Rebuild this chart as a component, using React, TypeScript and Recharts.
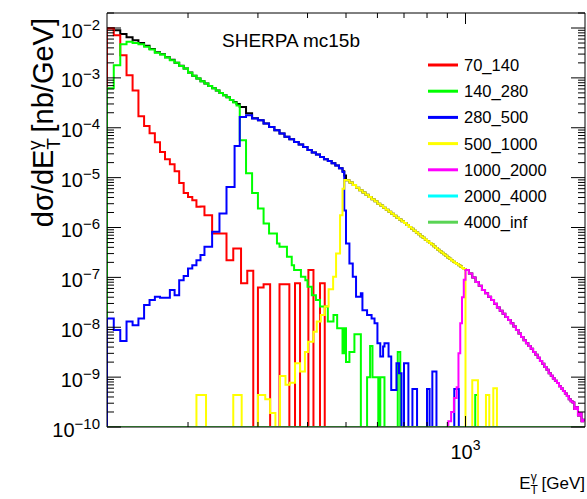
import React from "react";
import { LineChart, Line, XAxis, YAxis } from "recharts";

const W = 587;
const H = 499;
const Z = 1e-10; // empty bin, drawn on the bottom of the frame
const X_MIN = 125;
const X_MAX = 2000;
const Y_MIN = 1e-10;
const Y_MAX = 0.02;
const FONT = "'Liberation Sans', Arial, Helvetica, sans-serif";

// each histogram: [low bin edge in GeV, dσ/dE in nb/GeV]
const totalLow: [number, number][] = [
  [125, 9.9e-3], [130, 9.0e-3], [135, 7.6e-3], [140, 6.5e-3], [145, 5.7e-3], [150, 5.0e-3],
  [155, 4.4e-3], [160, 3.8e-3], [165, 3.25e-3], [170, 2.98e-3], [175, 2.6e-3], [180, 2.3e-3],
  [185, 2.02e-3], [190, 1.76e-3], [195, 1.55e-3], [200, 1.28e-3], [205, 1.1e-3], [210, 9.7e-4],
  [215, 8.6e-4], [220, 7.7e-4], [225, 6.9e-4], [230, 6.2e-4], [235, 5.6e-4], [240, 5.0e-4],
  [245, 4.5e-4], [250, 4.1e-4], [255, 3.6e-4], [260, 3.3e-4], [265, 3.0e-4], [270, 2.6e-4],
  [280, 1.95e-4], [290, 1.55e-4], [300, 1.42e-4], [310, 1.22e-4], [320, 1.04e-4], [330, 8.9e-5],
  [340, 7.7e-5], [350, 6.6e-5], [360, 5.9e-5], [370, 5.2e-5], [380, 4.6e-5], [390, 4.1e-5],
  [400, 3.6e-5], [410, 3.2e-5], [420, 2.9e-5], [430, 2.6e-5], [440, 2.35e-5], [450, 2.15e-5],
  [460, 1.95e-5], [470, 1.75e-5], [480, 1.55e-5], [490, 1.35e-5], [495, 1.1e-5],
];

const bins70: [number, number][] = [
  [125, 9.8e-3], [130, 7.2e-3], [135, 2.85e-3], [140, 1.13e-3], [145, 5.6e-4], [150, 1.7e-4],
  [155, 1.08e-4], [160, 7.8e-5], [165, 5.15e-5], [170, 3.25e-5], [175, 2.35e-5], [180, 1.86e-5],
  [185, 1.35e-5], [190, 7.8e-6], [195, 4.9e-6], [200, 4.1e-6], [205, 3.5e-6], [210, 2.6e-6],
  [215, 2.65e-6], [220, 1.77e-6], [230, 7.6e-7], [250, 2.2e-7], [260, 3.8e-7], [272, 7.6e-8],
  [282, 1.36e-7], [292, Z], [300, 6.3e-8], [310, 7.3e-8], [322, Z], [340, 7.3e-8], [360, Z],
  [372, 7.6e-8], [383, Z], [402, 1.4e-7], [414, Z], [430, 7.6e-8], [442, Z],
];

const bins140: [number, number][] = [
  [125, 6.2e-4], [130, 1.8e-3], [135, 4.7e-3], [140, 5.3e-3], [145, 5.0e-3], [150, 4.7e-3],
  [155, 4.2e-3], [160, 3.7e-3], [165, 3.2e-3], [170, 2.95e-3], [175, 2.57e-3], [180, 2.27e-3],
  [185, 2.0e-3], [190, 1.74e-3], [195, 1.54e-3], [200, 1.27e-3], [205, 1.1e-3], [210, 9.7e-4],
  [215, 8.6e-4], [220, 7.7e-4], [225, 6.9e-4], [230, 6.2e-4], [235, 5.6e-4], [240, 5.0e-4],
  [245, 4.5e-4], [250, 4.1e-4], [255, 3.6e-4], [260, 3.2e-4], [265, 2.8e-4], [270, 5.6e-5],
  [280, 1.23e-5], [290, 4.9e-6], [300, 2.4e-6], [310, 1.2e-6], [320, 7.6e-7], [335, 4.8e-7],
  [340, 4.1e-7], [355, 2.6e-7], [365, 1.76e-7], [370, 1.4e-7], [385, 1.03e-7], [395, 8.8e-8],
  [400, 6.5e-8], [410, 4.4e-8], [420, 3.5e-8], [430, 2.6e-8], [450, 1.3e-8], [465, 1.76e-8],
  [475, 9.5e-9], [490, 3.0e-9], [495, 9.5e-9], [500, 2.0e-9], [510, 3.2e-9], [525, 7.2e-9],
  [545, Z], [565, 1.0e-9], [575, 4.2e-9], [583, 1.0e-9], [603, Z], [610, 1.0e-9], [625, Z],
  [675, 3.2e-9], [685, Z], [1058, 4.4e-10], [1075, Z],
];

const bins280: [number, number][] = [
  [125, 1.5e-8], [130, 8.8e-9], [135, 5.3e-9], [140, 1.3e-8], [145, 1.1e-8], [150, 1.5e-8],
  [155, 2.8e-8], [160, 3.5e-8], [165, 4.1e-8], [170, 3.9e-8], [180, 5.6e-8], [185, 4.4e-8],
  [190, 8.8e-8], [195, 1.06e-7], [200, 1.5e-7], [205, 1.76e-7], [210, 2.2e-7], [215, 2.8e-7],
  [220, 4.1e-7], [230, 8.2e-7], [240, 1.9e-6], [250, 6.5e-6], [262, 4.3e-5], [270, 1.65e-4],
  [280, 1.79e-4], [290, 1.53e-4], [300, 1.42e-4], [310, 1.22e-4], [320, 1.04e-4], [330, 8.9e-5],
  [340, 7.7e-5], [350, 6.6e-5], [360, 5.9e-5], [370, 5.2e-5], [380, 4.6e-5], [390, 4.1e-5],
  [400, 3.6e-5], [410, 3.2e-5], [420, 2.9e-5], [430, 2.6e-5], [440, 2.35e-5], [450, 2.15e-5],
  [460, 1.95e-5], [470, 1.75e-5], [480, 1.55e-5], [490, 1.3e-5], [495, 2.2e-6], [500, 4.8e-7],
  [510, 1.9e-7], [520, 1.03e-7], [530, 4.1e-8], [545, 4.8e-8], [550, 2.2e-8], [565, 1.76e-8],
  [580, 1.5e-8], [590, 1.2e-8], [600, 4.8e-9], [610, 2.6e-9], [620, 4.1e-9], [625, 4.8e-9],
  [640, 2.6e-9], [650, 5.5e-10], [670, 1.9e-9], [680, 1.2e-9], [690, Z], [700, 1.9e-9],
  [718, Z], [735, 5.8e-10], [755, Z], [800, 5.8e-10], [812, Z], [825, 1.3e-9], [845, Z],
  [937, 5.8e-10], [962, Z],
];

const bins500: [number, number][] = [
  [125, Z], [210, 4.4e-10], [222, Z], [260, 4.4e-10], [273, Z], [300, 4.4e-10], [313, 3.6e-10],
  [322, 1.9e-10], [332, Z], [341, 1.05e-9], [352, 7e-10], [361, 7.7e-10], [372, 1.9e-9],
  [383, 1.3e-9], [394, 3.2e-9], [401, 5.1e-9], [414, 8.1e-9], [422, 1.3e-8], [432, 1.76e-8],
  [442, 2.6e-8], [452, 5.75e-8], [464, 1.03e-7], [472, 3.0e-7], [483, 1.77e-6], [490, 6e-6],
  [495, 9e-6],
  [500, 8.9e-6], [510, 8.0e-6], [520, 7.1e-6], [530, 6.3e-6], [540, 5.6e-6], [550, 5.05e-6],
  [560, 4.55e-6], [570, 4.1e-6], [580, 3.7e-6], [590, 3.35e-6], [600, 3.0e-6], [610, 2.75e-6],
  [620, 2.5e-6], [630, 2.28e-6], [640, 2.08e-6], [650, 1.88e-6], [660, 1.72e-6], [670, 1.57e-6],
  [680, 1.44e-6], [690, 1.33e-6], [700, 1.23e-6], [710, 1.12e-6], [720, 1.02e-6], [730, 9.4e-7],
  [740, 8.6e-7], [750, 7.9e-7], [760, 7.3e-7], [770, 6.7e-7], [780, 6.2e-7], [790, 5.7e-7],
  [800, 5.3e-7], [810, 4.9e-7], [820, 4.6e-7], [830, 4.2e-7], [840, 3.9e-7], [850, 3.6e-7],
  [860, 3.35e-7], [870, 3.1e-7], [880, 2.9e-7], [890, 2.7e-7], [900, 2.5e-7], [910, 2.35e-7],
  [920, 2.2e-7], [930, 2.05e-7], [940, 1.95e-7], [950, 1.85e-7], [960, 1.75e-7], [970, 1.65e-7],
  [980, 1.55e-7], [990, 1.47e-7],
  [1000, Z], [1040, 8.7e-10], [1075, Z], [1126, 4.4e-10], [1148, Z], [1175, 6e-10], [1200, Z],
];

const bins1000: [number, number][] = [
  [125, Z], [905, 1.3e-10], [920, 2e-10], [935, 3.8e-10], [950, 6.3e-10], [960, 3e-9],
  [970, 1.2e-8], [980, 4e-8], [990, 9e-8],
  [1000, 1.4e-7], [1020, 1.2e-7], [1040, 9.9e-8], [1060, 8.1e-8], [1080, 6.8e-8], [1100, 5.6e-8],
  [1120, 4.8e-8], [1140, 4.1e-8], [1160, 3.5e-8], [1180, 2.95e-8], [1200, 2.5e-8], [1220, 2.15e-8],
  [1240, 1.87e-8], [1260, 1.6e-8], [1280, 1.4e-8], [1300, 1.2e-8], [1320, 1.03e-8], [1340, 8.8e-9],
  [1360, 7.5e-9], [1380, 6.4e-9], [1400, 5.5e-9], [1420, 4.8e-9], [1440, 4.2e-9], [1460, 3.7e-9],
  [1480, 3.2e-9], [1500, 2.8e-9], [1520, 2.45e-9], [1540, 2.1e-9], [1560, 1.85e-9], [1580, 1.6e-9],
  [1600, 1.4e-9], [1620, 1.2e-9], [1640, 1.07e-9], [1660, 9.4e-10], [1680, 8.5e-10], [1700, 7.6e-10],
  [1720, 6.6e-10], [1740, 5.9e-10], [1760, 5.3e-10], [1780, 4.7e-10], [1800, 4.2e-10],
  [1820, 3.6e-10], [1840, 3.3e-10], [1860, 3.1e-10], [1880, 2.3e-10], [1900, 2.5e-10],
  [1920, 1.7e-10], [1940, 1.9e-10], [1960, 1.3e-10], [1980, 1.4e-10],
];

const bins2000: [number, number][] = [[125, Z]];
const bins4000: [number, number][] = [[125, Z]];

// the sum follows the leading slice once 500_1000 takes over
const totalBins: [number, number][] = [
  ...totalLow,
  ...bins500.filter(([x]) => x >= 500 && x < 1000),
  ...bins1000.filter(([x]) => x >= 1000),
];

const series = [
  { key: "total", name: "", color: "#000000", bins: totalBins },
  { key: "s70", name: "70_140", color: "#ff0000", bins: bins70 },
  { key: "s140", name: "140_280", color: "#00ff00", bins: bins140 },
  { key: "s280", name: "280_500", color: "#0000ff", bins: bins280 },
  { key: "s500", name: "500_1000", color: "#ffff00", bins: bins500 },
  { key: "s1000", name: "1000_2000", color: "#ff00ff", bins: bins1000 },
  { key: "s2000", name: "2000_4000", color: "#00ffff", bins: bins2000 },
  { key: "s4000", name: "4000_inf", color: "#59d454", bins: bins4000 },
];

const xTicks = [200, 300, 400, 500, 600, 700, 800, 900, 1000];
const yExponents = [-10, -9, -8, -7, -6, -5, -4, -3, -2];
const yTicks = yExponents
  .flatMap((e) => [1, 2, 3, 4, 5, 6, 7, 8, 9].map((m) => m * Math.pow(10, e)))
  .filter((v) => v <= Y_MAX);

// a histogram outline: rise from the floor at the first edge, step through the bins
function toPoints(bins: [number, number][]) {
  const pts = [{ x: bins[0][0], v: Z }];
  bins.forEach(([x, v]) => pts.push({ x, v }));
  pts.push({ x: X_MAX, v: bins[bins.length - 1][1] });
  return pts;
}

const isDecade = (v: number) => Math.abs(Math.log10(v) - Math.round(Math.log10(v))) < 1e-6;

const BottomTick = (props: any) => {
  const { x, y, payload } = props;
  const major = payload.value === 1000;
  return (
    <g>
      <line x1={x} x2={x} y1={y} y2={y - (major ? 11 : 5)} stroke="#000" />
      {major && (
        <text x={x} y={y + 32} textAnchor="middle" fontSize={20} fontFamily={FONT} fill="#000">
          10<tspan dy={-9} fontSize={14}>3</tspan>
        </text>
      )}
    </g>
  );
};

const TopTick = (props: any) => {
  const { x, y, payload } = props;
  const major = payload.value === 1000;
  return <line x1={x} x2={x} y1={y} y2={y + (major ? 11 : 5)} stroke="#000" />;
};

const LeftTick = (props: any) => {
  const { x, y, payload } = props;
  const major = isDecade(payload.value);
  const exp = Math.round(Math.log10(payload.value));
  return (
    <g>
      <line x1={x} x2={x + (major ? 14 : 7)} y1={y} y2={y} stroke="#000" />
      {major && (
        <text x={x - 7} y={y + 9.5} textAnchor="end" fontSize={20} fontFamily={FONT} fill="#000">
          10<tspan dy={-8} fontSize={15}>{"\u2212" + Math.abs(exp)}</tspan>
        </text>
      )}
    </g>
  );
};

const RightTick = (props: any) => {
  const { x, y, payload } = props;
  const major = isDecade(payload.value);
  return <line x1={x} x2={x - (major ? 14 : 7)} y1={y} y2={y} stroke="#000" />;
};

export default function App() {
  return (
    <div style={{ position: "relative", width: W, height: H, background: "#fff" }}>
      <style>{"body{margin:0}"}</style>
      <LineChart width={W} height={H} margin={{ top: 12, right: 1, bottom: 71, left: 106 }}>
        <XAxis
          xAxisId="b" dataKey="x" type="number" scale="log" domain={[X_MIN, X_MAX]} allowDataOverflow
          ticks={xTicks} interval={0} height={1} tickSize={0} tickMargin={0} tickLine={false}
          axisLine={{ stroke: "#000" }} tick={<BottomTick />}
        />
        <XAxis
          xAxisId="t" orientation="top" dataKey="x" type="number" scale="log" domain={[X_MIN, X_MAX]}
          allowDataOverflow ticks={xTicks} interval={0} height={1} tickSize={0} tickMargin={0}
          tickLine={false} axisLine={{ stroke: "#000" }} tick={<TopTick />}
        />
        <YAxis
          yAxisId="l" type="number" scale="log" domain={[Y_MIN, Y_MAX]} allowDataOverflow ticks={yTicks}
          interval={0} width={1} tickSize={0} tickMargin={0} tickLine={false}
          axisLine={{ stroke: "#000" }} tick={<LeftTick />}
        />
        <YAxis
          yAxisId="r" orientation="right" type="number" scale="log" domain={[Y_MIN, Y_MAX]} allowDataOverflow
          ticks={yTicks} interval={0} width={1} tickSize={0} tickMargin={0} tickLine={false}
          axisLine={{ stroke: "#000" }} tick={<RightTick />}
        />
        {series.map((s) => (
          <Line
            key={s.key}
            xAxisId="b"
            yAxisId="l"
            data={toPoints(s.bins)}
            dataKey="v"
            type="stepAfter"
            stroke={s.color}
            strokeWidth={2}
            dot={false}
            activeDot={false}
            isAnimationActive={false}
          />
        ))}
      </LineChart>
      <svg width={W} height={H} style={{ position: "absolute", left: 0, top: 0, pointerEvents: "none" }}>
        <g fontFamily={FONT} fill="#000">
          <text x={222} y={47} fontSize={19}>SHERPA mc15b</text>
          <text transform="translate(53,18) rotate(-90)" textAnchor="end" fontSize={29}>
            dσ/dE<tspan dy={7} fontSize={19}>T</tspan>
            <tspan dx={-12} dy={-19} fontSize={19}>γ</tspan>
            <tspan dy={12} fontSize={29}> [nb/GeV]</tspan>
          </text>
          <text x={585} y={489} textAnchor="end" fontSize={17}>
            E<tspan dy={5} fontSize={12}>T</tspan>
            <tspan dx={-7} dy={-13} fontSize={12}>γ</tspan>
            <tspan dy={8} fontSize={17}> [GeV]</tspan>
          </text>
          {series.slice(1).map((s, i) => (
            <g key={s.key}>
              <line x1={428} x2={458} y1={65 + i * 26.2} y2={65 + i * 26.2} stroke={s.color} strokeWidth={3} />
              <text x={464} y={65 + i * 26.2 + 6} fontSize={16.5}>{s.name}</text>
            </g>
          ))}
        </g>
      </svg>
    </div>
  );
}
